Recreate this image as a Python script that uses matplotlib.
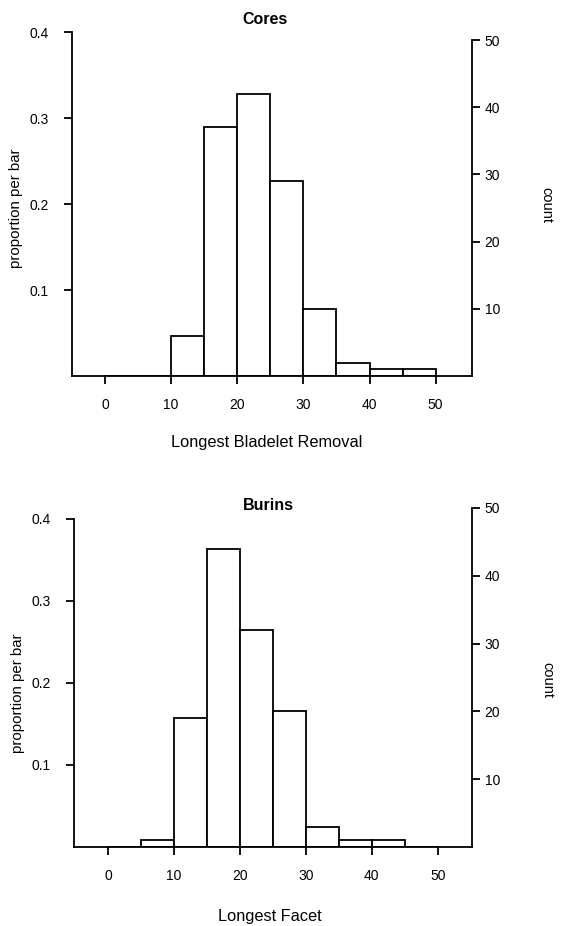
import matplotlib.pyplot as plt

plt.rcParams['font.family'] = ['Liberation Sans', 'DejaVu Sans']

# bin left edges (width 5)
bin_left = [0, 5, 10, 15, 20, 25, 30, 35, 40, 45]
bin_width = 5

cores_counts = [0, 0, 6, 37, 42, 29, 10, 2, 1, 1]
burins_counts = [0, 1, 19, 44, 32, 20, 3, 1, 1, 0]

x_ticks = [0, 10, 20, 30, 40, 50]
prop_ticks = [0.1, 0.2, 0.3, 0.4]
count_ticks = [10, 20, 30, 40, 50]

W, H = 562, 926
fig = plt.figure(figsize=(W / 100, H / 100), dpi=100)


def panel(rect, counts, xlim, title, title_xy, xlabel, xlabel_xy, ylab_xy, count_xy):
    n = sum(counts)
    top = max(0.4, 50 / n)
    props = [c / n for c in counts]

    ax = fig.add_axes(rect)
    ax.bar(bin_left, props, width=bin_width, align='edge',
           facecolor='white', edgecolor='black', linewidth=1.3)
    ax.set_xlim(*xlim)
    ax.set_ylim(0, top)
    ax.set_xticks(x_ticks)
    ax.set_yticks(prop_ticks)
    ax.set_yticklabels(['0.1', '0.2', '0.3', '0.4'])
    ax.spines['top'].set_visible(False)
    ax.spines['right'].set_visible(False)
    ax.spines['left'].set_bounds(0, 0.4)
    for s in ['left', 'bottom']:
        ax.spines[s].set_linewidth(1.3)
    ax.tick_params(direction='out', length=5.5, width=1.3, labelsize=10)
    ax.tick_params(axis='x', pad=10)
    ax.tick_params(axis='y', pad=11)

    ax2 = ax.twinx()
    ax2.set_ylim(0, top * n)
    ax2.set_yticks(count_ticks)
    for s in ['top', 'left', 'bottom']:
        ax2.spines[s].set_visible(False)
    ax2.spines['right'].set_bounds(0, 50)
    ax2.spines['right'].set_linewidth(1.3)
    ax2.tick_params(direction='out', length=5.5, width=1.3, labelsize=10, pad=3.5)

    fig.text(title_xy[0] / W, 1 - title_xy[1] / H, title, ha='center', va='center',
             fontsize=11.5, fontweight='bold')
    fig.text(xlabel_xy[0] / W, 1 - xlabel_xy[1] / H, xlabel, ha='center', va='center',
             fontsize=11.8)
    fig.text(ylab_xy[0] / W, 1 - ylab_xy[1] / H, 'proportion per bar', ha='center',
             va='center', rotation=90, fontsize=10.8)
    fig.text(count_xy[0] / W, 1 - count_xy[1] / H, 'count', ha='center',
             va='center', rotation=270, fontsize=10.5)


panel([72 / W, 550 / H, 400 / W, 344 / H], cores_counts, (-5, 55.5),
      'Cores', (265, 20), 'Longest Bladelet Removal', (267, 442), (16, 208), (546, 205))
panel([74 / W, 79 / H, 398 / W, 339 / H], burins_counts, (-5.2, 55.2),
      'Burins', (268, 506), 'Longest Facet', (270, 917), (18, 693), (547, 680))

fig.savefig('out.png', dpi=100)
